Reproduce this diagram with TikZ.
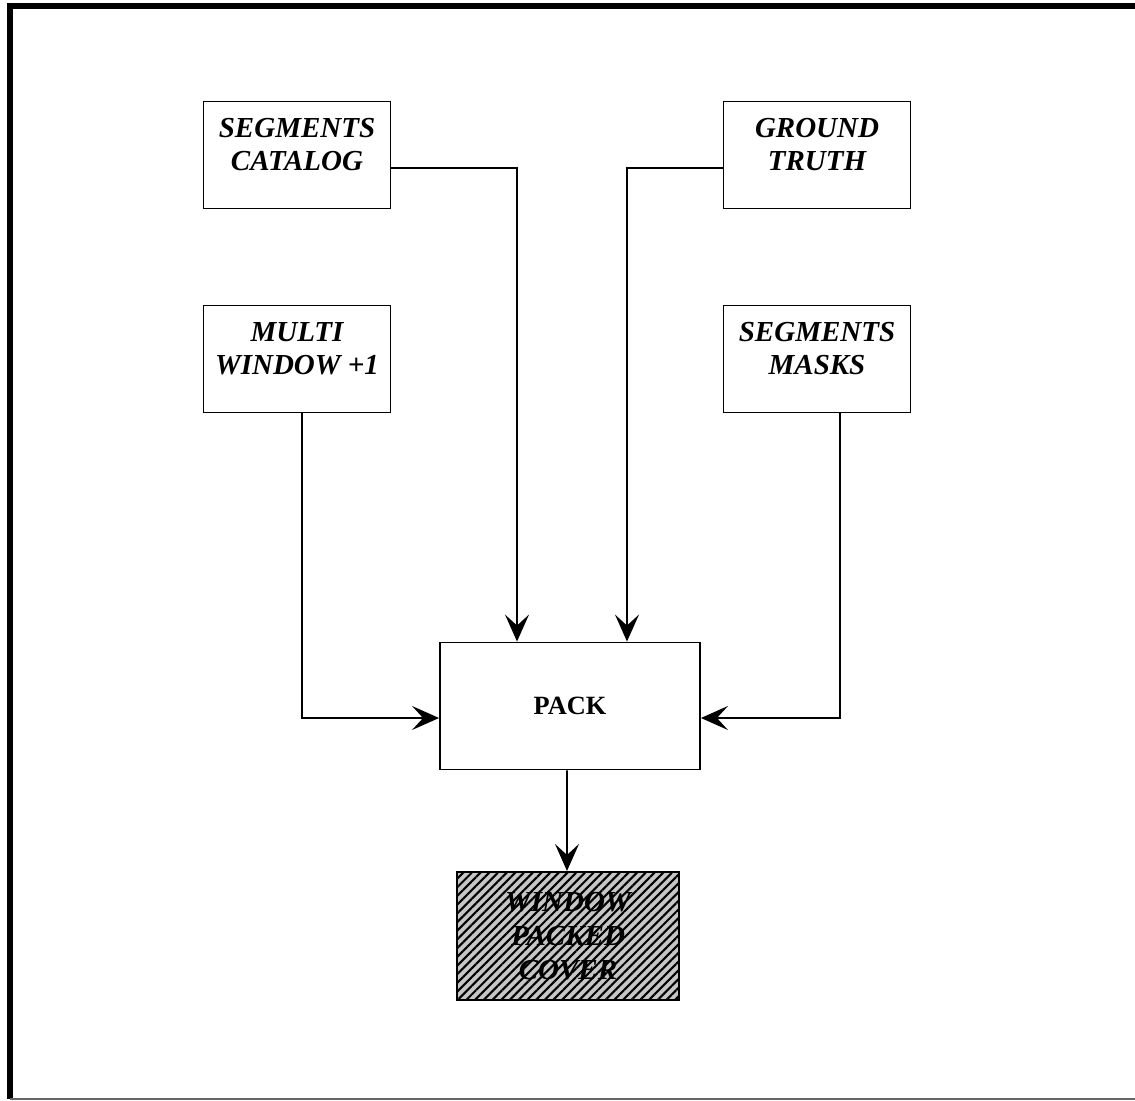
\documentclass[tikz,border=0pt]{standalone}
\usepackage{fontspec}
\setmainfont{Liberation Serif}
\usetikzlibrary{arrows.meta}
\usetikzlibrary{patterns.meta}

\tikzset{
	blk/.style = {draw, line width=1.1pt, minimum width=3.74cm, minimum height=2.14cm, align=center, text depth=0.42cm, font=\fontsize{16.5}{18.5}\selectfont\bfseries\itshape},
	arr/.style = {-{Stealth[length=0.54cm,width=0.48cm,inset=0.22cm]}, line width=0.9pt}
}

\begin{document}
\begin{tikzpicture}[x=0.02cm, y=-0.02cm]
		\useasboundingbox (0,0) rectangle (1135,1101);
		\draw[line width=3pt] (1135,6) -- (10,6) -- (10,1099);
		\draw[line width=1pt, black!60] (10,1099) -- (1135,1099);
		
		\node[blk] (cat) at (297,155) {SEGMENTS\\CATALOG};
		\node[blk] (gt) at (817,155) {GROUND\\TRUTH};
		\node[blk] (multi) at (297,359) {MULTI\\WINDOW +1};
		\node[blk] (mask) at (817,359) {SEGMENTS\\MASKS};
		\node[draw, line width=1.1pt, minimum width=5.2cm, minimum height=2.54cm, font=\fontsize{15}{18}\selectfont\bfseries] (pack) at (570,706) {PACK};
		\node[draw, line width=1.3pt, minimum width=4.44cm, minimum height=2.56cm, align=center, font=\fontsize{16.5}{19.5}\selectfont\bfseries\itshape,
			preaction={fill=gray!45}, pattern={Lines[angle=45,distance=3.5pt,line width=1.2pt]}] (cover) at (568,936) {WINDOW\\PACKED\\COVER};
		
		\draw[arr] ([yshift=-0.26cm]cat.east) -| ([xshift=-1.06cm]pack.north);
		\draw[arr] ([yshift=-0.26cm]gt.west) -| ([xshift=1.14cm]pack.north);
		\draw[arr] ([xshift=0.1cm]multi.south) |- ([yshift=-0.24cm]pack.west);
		\draw[arr] ([xshift=0.46cm]mask.south) |- ([yshift=-0.24cm]pack.east);
		\draw[arr] ([xshift=-0.06cm]pack.south) -- ([xshift=-0.02cm]cover.north);
		
		\end{tikzpicture}
\end{document}
